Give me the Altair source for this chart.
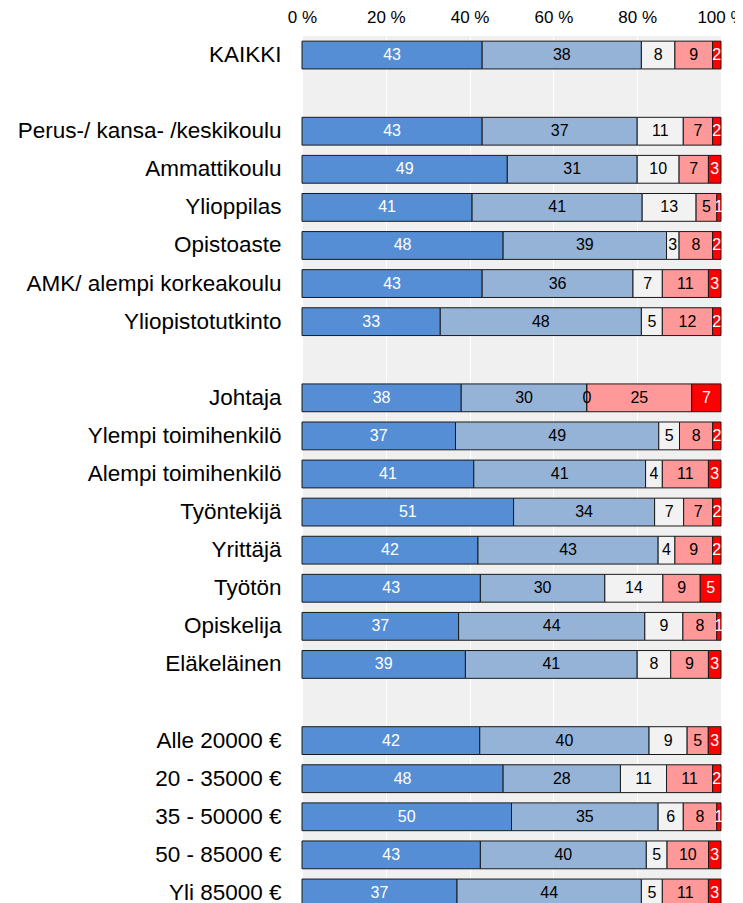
import altair as alt
import pandas as pd

categories = [
    "KAIKKI", " ",
    "Perus-/ kansa- /keskikoulu", "Ammattikoulu", "Ylioppilas", "Opistoaste",
    "AMK/ alempi korkeakoulu", "Yliopistotutkinto", "  ",
    "Johtaja", "Ylempi toimihenkilö", "Alempi toimihenkilö", "Työntekijä",
    "Yrittäjä", "Työtön", "Opiskelija", "Eläkeläinen", "   ",
    "Alle 20000 €", "20 - 35000 €", "35 - 50000 €", "50 - 85000 €", "Yli 85000 €",
]

s1 = [43, None, 43, 49, 41, 48, 43, 33, None, 38, 37, 41, 51, 42, 43, 37, 39, None, 42, 48, 50, 43, 37]
s2 = [38, None, 37, 31, 41, 39, 36, 48, None, 30, 49, 41, 34, 43, 30, 44, 41, None, 40, 28, 35, 40, 44]
s3 = [8, None, 11, 10, 13, 3, 7, 5, None, 0, 5, 4, 7, 4, 14, 9, 8, None, 9, 11, 6, 5, 5]
s4 = [9, None, 7, 7, 5, 8, 11, 12, None, 25, 8, 11, 7, 9, 9, 8, 9, None, 5, 11, 8, 10, 11]
s5 = [2, None, 2, 3, 1, 2, 3, 2, None, 7, 2, 3, 2, 2, 5, 1, 3, None, 3, 2, 1, 3, 3]

series = [s1, s2, s3, s4, s5]
colors = ["#558ED5", "#95B3D7", "#F2F2F2", "#FF9999", "#FF0000"]
text_colors = ["white", "black", "black", "black", "white"]
tick_values = [0, 0.2, 0.4, 0.6, 0.8, 1.0]

rows = []
for ci, cat in enumerate(categories):
    for k, s in enumerate(series):
        if s[ci] is None:
            continue
        rows.append({"cat": cat, "k": k, "v": s[ci]})
df = pd.DataFrame(rows)

base = alt.Chart(df).transform_joinaggregate(
    total="sum(v)", groupby=["cat"]
).transform_window(
    cum="sum(v)", sort=[alt.SortField("k")], groupby=["cat"], frame=[None, 0]
).transform_calculate(
    end="datum.cum / datum.total",
    start="(datum.cum - datum.v) / datum.total",
    mid="(2 * datum.cum - datum.v) / (2 * datum.total)",
)

yenc = alt.Y(
    "cat:N",
    sort=categories,
    scale=alt.Scale(domain=categories, paddingInner=0.27, paddingOuter=0.135),
    axis=alt.Axis(
        title=None, ticks=False, domain=False, labelPadding=21,
        labelFontSize=22.5, labelColor="black", labelFont="Liberation Sans",
        labelLimit=400,
    ),
)

bars = base.mark_bar(stroke="#1a1a1a", strokeWidth=1).encode(
    x=alt.X(
        "start:Q",
        scale=alt.Scale(domain=[0, 1], nice=False, zero=True),
        axis=alt.Axis(
            orient="top", title=None, values=tick_values, ticks=False, domain=False,
            labelExpr="round(datum.value * 100) + ' %'", labelFontSize=17,
            labelFont="Liberation Sans", labelColor="black", labelPadding=14,
            labelBaseline="alphabetic", grid=True, gridColor="white", gridWidth=1,
            labelFlush=False,
        ),
    ),
    x2="end:Q",
    y=yenc,
    color=alt.Color("k:O", scale=alt.Scale(domain=[0, 1, 2, 3, 4], range=colors), legend=None),
)

labels = base.mark_text(fontSize=16, font="Liberation Sans", baseline="middle", align="center").encode(
    x="mid:Q",
    y=alt.Y("cat:N", sort=categories),
    text="v:Q",
    color=alt.Color("k:O", scale=alt.Scale(domain=[0, 1, 2, 3, 4], range=text_colors), legend=None),
)

chart = alt.layer(bars, labels).resolve_scale(color="independent").properties(
    width=419,
    height=876,
    autosize=alt.AutoSizeParams(type="none"),
    padding={"left": 294, "top": 28, "right": 14, "bottom": 0},
).configure_view(fill="#F0F0F0", stroke=None)

chart.save("out.html", embed_options={"renderer": "svg", "actions": False})
